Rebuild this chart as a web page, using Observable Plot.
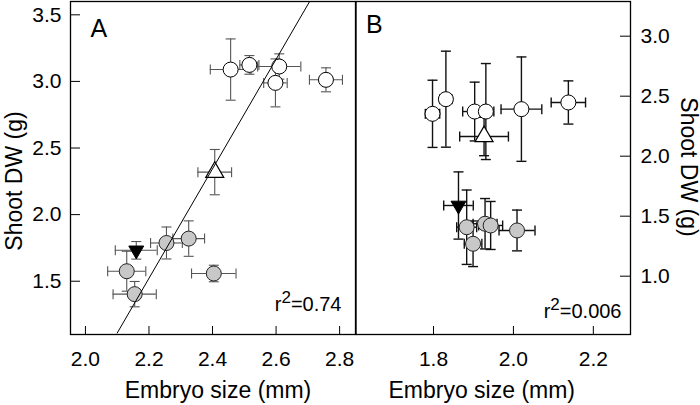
<!DOCTYPE html>
<html><head><meta charset="utf-8">
<script src="https://cdn.jsdelivr.net/npm/d3@7"></script>
<script src="https://cdn.jsdelivr.net/npm/@observablehq/plot@0.6"></script>
<style>
html,body{margin:0;padding:0;background:#fff;}
#wrap{position:relative;width:700px;height:405px;overflow:hidden;}
</style></head><body><div id="wrap"></div>
<script>
// ---------- Panel A data ----------
const aX    = [2.457, 2.516, 2.610, 2.598, 2.757, 2.407, 2.255, 2.325, 2.404, 2.130, 2.155, 2.160];
const aY    = [3.089, 3.124, 3.112, 2.989, 3.012, 2.319, 1.787, 1.820, 1.558, 1.575, 1.403, 1.732];
const aXErr = [0.064, 0.030, 0.068, 0.037, 0.052, 0.053, 0.050, 0.050, 0.070, 0.060, 0.068, 0.066];
const aYErr = [0.230, 0.070, 0.095, 0.180, 0.090, 0.170, 0.120, 0.133, 0.062, 0.150, 0.095, 0.066];
const aGroup = ["open","open","open","open","open","triUp","gray","gray","gray","gray","gray","triDown"];
const aXTicks = [2.0, 2.2, 2.4, 2.6, 2.8];
const aYTicks = [1.5, 2.0, 2.5, 3.0, 3.5];
const aXDomain = [1.953, 2.85];
const aYDomain = [1.1, 3.6];
const aRegSlope = 4.11;
const aRegIntercept = -7.52;
const aRegRange = [2.10, 2.72];
const aR2 = "0.74";

// ---------- Panel B data ----------
const bX    = [1.7975, 1.831, 1.903, 1.931, 2.020, 2.1375, 1.9265, 1.8625, 1.883, 1.899, 1.929, 1.943, 2.009];
const bY    = [2.353, 2.475, 2.372, 2.372, 2.392, 2.4475, 2.164, 1.589, 1.408, 1.270, 1.437, 1.4225, 1.381];
const bXErr = [0.018, 0.015, 0.030, 0.020, 0.051, 0.043, 0.061, 0.037, 0.025, 0.022, 0.030, 0.030, 0.045];
const bYErr = [0.280, 0.400, 0.245, 0.400, 0.435, 0.180, 0.160, 0.280, 0.310, 0.190, 0.210, 0.200, 0.170];
const bGroup = ["open","open","open","open","open","open","triUp","triDown","gray","gray","gray","gray","gray"];
const bXTicks = [1.8, 2.0, 2.2];
const bYTicks = [1.0, 1.5, 2.0, 2.5, 3.0];
const bXDomain = [1.606, 2.293];
const bYDomain = [0.514, 3.289];
const bR2 = "0.006";

const xTitle = "Embryo size (mm)";
const yTitle = "Shoot DW (g)";

const FONT = "'Liberation Sans', Arial, Helvetica, sans-serif";

function rows(X, Y, XE, YE, G) {
  return X.map((x, i) => ({x, y: Y[i], xe: XE[i], ye: YE[i], g: G[i]}));
}

const vcap = {draw(ctx) { ctx.moveTo(0, -5); ctx.lineTo(0, 5); }};
const hcap = {draw(ctx) { ctx.moveTo(-5, 0); ctx.lineTo(5, 0); }};
function triSym(h, down) {
  const s = down ? 1 : -1, w = Math.sqrt(3) * h;
  return {draw(ctx) { ctx.moveTo(0, 2 * h * s); ctx.lineTo(-w, -h * s); ctx.lineTo(w, -h * s); ctx.closePath(); }};
}
const triUp = triSym(5.2, false);
const triDown = triSym(4.3, true);

function panel(cfg) {
  const data = rows(cfg.X, cfg.Y, cfg.XE, cfg.YE, cfg.G);
  const frameW = cfg.width - cfg.ml - cfg.mr;
  const frameH = 405 - cfg.mt - cfg.mb;
  const ec = cfg.errColor, ew = cfg.errWidth;
  const marks = [
    Plot.frame({stroke: "black", strokeWidth: 1.3}),
    // inward ticks
    Plot.tickY(cfg.yTicks, {y: d => d, stroke: "black", insetLeft: cfg.side === "right" ? frameW - 10 : 0, insetRight: cfg.side === "left" ? frameW - 10 : 0}),
    Plot.tickX(cfg.xTicks, {x: d => d, stroke: "black", insetTop: frameH - 8}),
    Plot.axisX(cfg.xTicks, {tickSize: 0, tickPadding: 17, tickFormat: d3.format(".1f"), label: null, fontSize: 21}),
    Plot.axisY(cfg.yTicks, {anchor: cfg.side, tickSize: 0, tickPadding: cfg.side === "left" ? 9 : 10, tickFormat: d3.format(".1f"), label: null, fontSize: 21}),
  ];
  marks.push(
    Plot.ruleX(data, {x: "x", y1: d => d.y - d.ye, y2: d => d.y + d.ye, stroke: ec, strokeWidth: ew}),
    Plot.ruleY(data, {y: "y", x1: d => d.x - d.xe, x2: d => d.x + d.xe, stroke: ec, strokeWidth: ew}),
    Plot.dot(data, {x: "x", y: d => d.y - d.ye, symbol: hcap, fill: "none", stroke: ec, strokeWidth: ew}),
    Plot.dot(data, {x: "x", y: d => d.y + d.ye, symbol: hcap, fill: "none", stroke: ec, strokeWidth: ew}),
    Plot.dot(data, {x: d => d.x - d.xe, y: "y", symbol: vcap, fill: "none", stroke: ec, strokeWidth: ew}),
    Plot.dot(data, {x: d => d.x + d.xe, y: "y", symbol: vcap, fill: "none", stroke: ec, strokeWidth: ew}),
    Plot.dot(data.filter(d => d.g === "gray"), {x: "x", y: "y", r: 7.5, symbol: "circle", fill: "#c8c8c8", stroke: "#222", strokeWidth: 1}),
    Plot.dot(data.filter(d => d.g === "open"), {x: "x", y: "y", r: 7.5, symbol: "circle", fill: "white", stroke: "black", strokeWidth: 1}),
    Plot.dot(data.filter(d => d.g === "triUp"), {x: "x", y: "y", symbol: triUp, fill: "white", stroke: "black", strokeWidth: 1.2}),
    Plot.dot(data.filter(d => d.g === "triDown"), {x: "x", y: "y", symbol: triDown, fill: "black", stroke: "black", strokeWidth: 1}),
  );
  if (cfg.reg) {
    const xs = cfg.reg.range;
    marks.push(Plot.line(xs.map(x => ({x, y: cfg.reg.intercept + cfg.reg.slope * x})), {x: "x", y: "y", stroke: "black", strokeWidth: 1, clip: true}));
  }
  marks.push(
    Plot.text([cfg.letter], {text: d => d, frameAnchor: "top-left", textAnchor: "start", lineAnchor: "bottom", dx: cfg.letterDx, dy: cfg.letterDy, fontSize: 25, fill: "black"}),
    Plot.text(["r2=" + cfg.r2], {text: d => d, frameAnchor: "bottom-right", textAnchor: "end", lineAnchor: "bottom", dx: cfg.r2Dx, dy: cfg.r2Dy, fontSize: 20, fill: "black"}),
    Plot.text([xTitle], {text: d => d, frameAnchor: "bottom", textAnchor: "middle", lineAnchor: "bottom", dx: cfg.xtDx, dy: 63, fontSize: 23, fill: "black"}),
    Plot.text([yTitle], {text: d => d, frameAnchor: cfg.side, textAnchor: "middle", lineAnchor: "bottom", rotate: cfg.side === "left" ? -90 : 90, dx: cfg.ytDx, dy: cfg.ytDy, fontSize: 23, fill: "black"})
  );
  const svg = Plot.plot({
    width: cfg.width, height: 405,
    marginLeft: cfg.ml, marginRight: cfg.mr, marginTop: cfg.mt, marginBottom: cfg.mb,
    x: {domain: cfg.xDomain},
    y: {domain: cfg.yDomain},
    style: {position: "absolute", left: cfg.left + "px", top: "0px", background: "none", overflow: "visible", fontFamily: FONT, fontSize: "21px", color: "black"},
    marks
  });
  // superscript for r2
  d3.select(svg).selectAll("text").filter(function () { return this.textContent.startsWith("r2="); })
    .each(function () {
      const t = d3.select(this);
      const rest = this.textContent.slice(2);
      t.text(null);
      t.append("tspan").text("r");
      t.append("tspan").attr("dy", "-8").attr("font-size", "17px").text("2");
      t.append("tspan").attr("dy", "8").text(rest);
    });
  return svg;
}

const wrap = document.getElementById("wrap");
wrap.appendChild(panel({
  X: aX, Y: aY, XE: aXErr, YE: aYErr, G: aGroup,
  xTicks: aXTicks, yTicks: aYTicks, xDomain: aXDomain, yDomain: aYDomain,
  width: 360, left: 0, ml: 70, mr: 5, mt: 1, mb: 71, side: "left",
  errColor: "#555", errWidth: 1.1,
  reg: {slope: aRegSlope, intercept: aRegIntercept, range: aRegRange},
  letter: "A", letterDx: 20, letterDy: 35,
  r2: aR2, r2Dx: -14, r2Dy: -24,
  xtDx: 5, ytDx: -49, ytDy: 13
}));
wrap.appendChild(panel({
  X: bX, Y: bY, XE: bXErr, YE: bYErr, G: bGroup,
  xTicks: bXTicks, yTicks: bYTicks, xDomain: bXDomain, yDomain: bYDomain,
  width: 350, left: 350, ml: 5.5, mr: 70, mt: 1, mb: 71, side: "right",
  errColor: "#111", errWidth: 1.4,
  reg: null,
  letter: "B", letterDx: 10, letterDy: 31,
  r2: bR2, r2Dx: -9, r2Dy: -17,
  xtDx: -11.5, ytDx: 50, ytDy: -1
}));
</script></body></html>
